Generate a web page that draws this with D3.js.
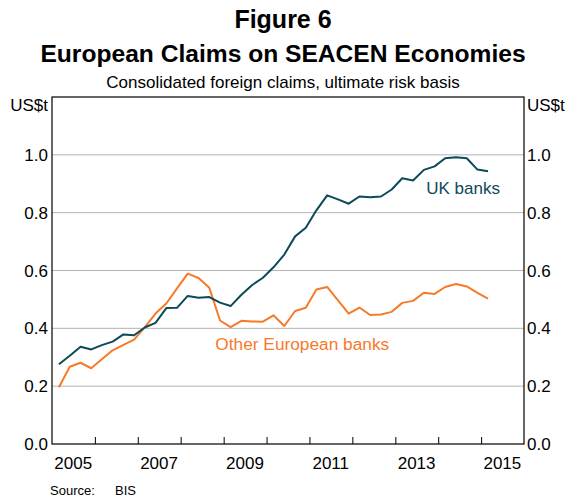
<!DOCTYPE html>
<html>
<head>
<meta charset="utf-8">
<script src="https://cdn.jsdelivr.net/npm/d3@7"></script>
<style>
  body { margin: 0; background: #fff; }
  text { font-family: "Liberation Sans", Arial, sans-serif; }
</style>
</head>
<body>
<div id="chart"></div>
<script>
// quarterly, Q1 2005 .. Q1 2015 (US$ trillion)
const firstQuarter = { year: 2005, q: 1 };
const ukBanks = [
  0.276, 0.305, 0.336, 0.327, 0.342, 0.354, 0.379, 0.376, 0.403, 0.419,
  0.470, 0.471, 0.512, 0.506, 0.508, 0.489, 0.477, 0.516, 0.550, 0.575,
  0.611, 0.655, 0.718, 0.748, 0.808, 0.860, 0.846, 0.831, 0.856, 0.853,
  0.856, 0.880, 0.919, 0.911, 0.948, 0.960, 0.988, 0.992, 0.988, 0.949,
  0.943
];
const otherBanks = [
  0.196, 0.267, 0.281, 0.262, 0.293, 0.324, 0.343, 0.361, 0.403, 0.451,
  0.486, 0.538, 0.589, 0.574, 0.540, 0.427, 0.404, 0.426, 0.424, 0.423,
  0.445, 0.408, 0.460, 0.471, 0.534, 0.543, 0.497, 0.451, 0.472, 0.446,
  0.448, 0.457, 0.488, 0.495, 0.523, 0.519, 0.543, 0.553, 0.545, 0.523,
  0.503
];
const yTicks = [0.0, 0.2, 0.4, 0.6, 0.8, 1.0];
const yearLabels = [2005, 2007, 2009, 2011, 2013, 2015];

const width = 566, height = 499;
const margin = { left: 52, right: 42, top: 97, bottom: 55 };

const svg = d3.select("#chart").append("svg")
    .attr("width", width)
    .attr("height", height);

// quarter index -> date (plotted near the start of the quarter's last month)
function quarterDate(i) {
  return new Date(firstQuarter.year, (firstQuarter.q - 1) * 3 + i * 3 + 2, 1);
}

const x = d3.scaleTime()
    .domain([new Date(2005, 0, 1), new Date(2016, 0, 1)])
    .range([margin.left, width - margin.right]);
const y = d3.scaleLinear()
    .domain([0, 1.2])
    .range([height - margin.bottom, margin.top]);

// titles
svg.append("text")
    .attr("x", width / 2).attr("y", 28)
    .attr("text-anchor", "middle")
    .attr("font-size", "25px").attr("font-weight", "bold")
    .text("Figure 6");
svg.append("text")
    .attr("x", width / 2).attr("y", 62)
    .attr("text-anchor", "middle")
    .attr("font-size", "24.6px").attr("font-weight", "bold")
    .text("European Claims on SEACEN Economies");
svg.append("text")
    .attr("x", width / 2).attr("y", 88)
    .attr("text-anchor", "middle")
    .attr("font-size", "17px")
    .text("Consolidated foreign claims, ultimate risk basis");

// gridlines
svg.append("g")
  .selectAll("line")
  .data(yTicks.filter(d => d > 0))
  .join("line")
    .attr("x1", margin.left).attr("x2", width - margin.right)
    .attr("y1", d => y(d)).attr("y2", d => y(d))
    .attr("stroke", "#b3b3b3").attr("stroke-width", 1);

// y labels, both sides
const fmt = d3.format(".1f");
svg.append("g")
  .selectAll("text")
  .data(yTicks)
  .join("text")
    .attr("x", margin.left - 4).attr("y", d => y(d))
    .attr("dy", "0.36em")
    .attr("text-anchor", "end")
    .attr("font-size", "17px")
    .text(fmt);
svg.append("g")
  .selectAll("text")
  .data(yTicks)
  .join("text")
    .attr("x", width - margin.right + 3).attr("y", d => y(d))
    .attr("dy", "0.36em")
    .attr("font-size", "17px")
    .text(fmt);

svg.append("text")
    .attr("x", margin.left - 4).attr("y", y(1.2)).attr("dy", "0.8em")
    .attr("text-anchor", "end").attr("font-size", "17px")
    .text("US$t");
svg.append("text")
    .attr("x", width - margin.right + 3).attr("y", y(1.2)).attr("dy", "0.8em")
    .attr("font-size", "17px")
    .text("US$t");

// x axis: year ticks pointing in, labels mid-year
const xAxis = d3.axisBottom(x)
    .tickValues(d3.timeYear.range(new Date(2006, 0, 1), new Date(2016, 0, 1)))
    .tickSizeInner(-7)
    .tickSizeOuter(0)
    .tickFormat("");
svg.append("g")
    .attr("transform", "translate(0," + (height - margin.bottom) + ")")
    .call(xAxis)
    .call(g => g.select(".domain").remove())
    .call(g => g.selectAll(".tick line").attr("stroke", "#000"));

svg.append("g")
  .selectAll("text")
  .data(yearLabels)
  .join("text")
    .attr("x", d => x(new Date(d, 6, 1)))
    .attr("y", height - margin.bottom + 25)
    .attr("text-anchor", "middle")
    .attr("font-size", "17px")
    .text(d => d);

// frame
svg.append("rect")
    .attr("x", margin.left).attr("y", margin.top)
    .attr("width", width - margin.left - margin.right)
    .attr("height", height - margin.top - margin.bottom)
    .attr("fill", "none").attr("stroke", "#000").attr("stroke-width", 1.2);

// lines
const line = d3.line()
    .x((d, i) => x(quarterDate(i)))
    .y(d => y(d));

svg.append("path")
    .datum(otherBanks)
    .attr("fill", "none")
    .attr("stroke", "#f7792a")
    .attr("stroke-width", 2)
    .attr("stroke-linejoin", "round")
    .attr("d", line);
svg.append("path")
    .datum(ukBanks)
    .attr("fill", "none")
    .attr("stroke", "#0c4a58")
    .attr("stroke-width", 2)
    .attr("stroke-linejoin", "round")
    .attr("d", line);

// series labels
svg.append("text")
    .attr("x", x(new Date(2014, 7, 1))).attr("y", y(0.865))
    .attr("text-anchor", "middle")
    .attr("font-size", "17px").attr("fill", "#0c4a58")
    .text("UK banks");
svg.append("text")
    .attr("x", x(new Date(2010, 10, 1))).attr("y", y(0.325))
    .attr("text-anchor", "middle")
    .attr("font-size", "17.3px").attr("fill", "#f7792a")
    .text("Other European banks");

// source
svg.append("text")
    .attr("x", 50).attr("y", 495)
    .attr("font-size", "13px")
    .text("Source:");
svg.append("text")
    .attr("x", 115).attr("y", 495)
    .attr("font-size", "13px")
    .text("BIS");
</script>
</body>
</html>
